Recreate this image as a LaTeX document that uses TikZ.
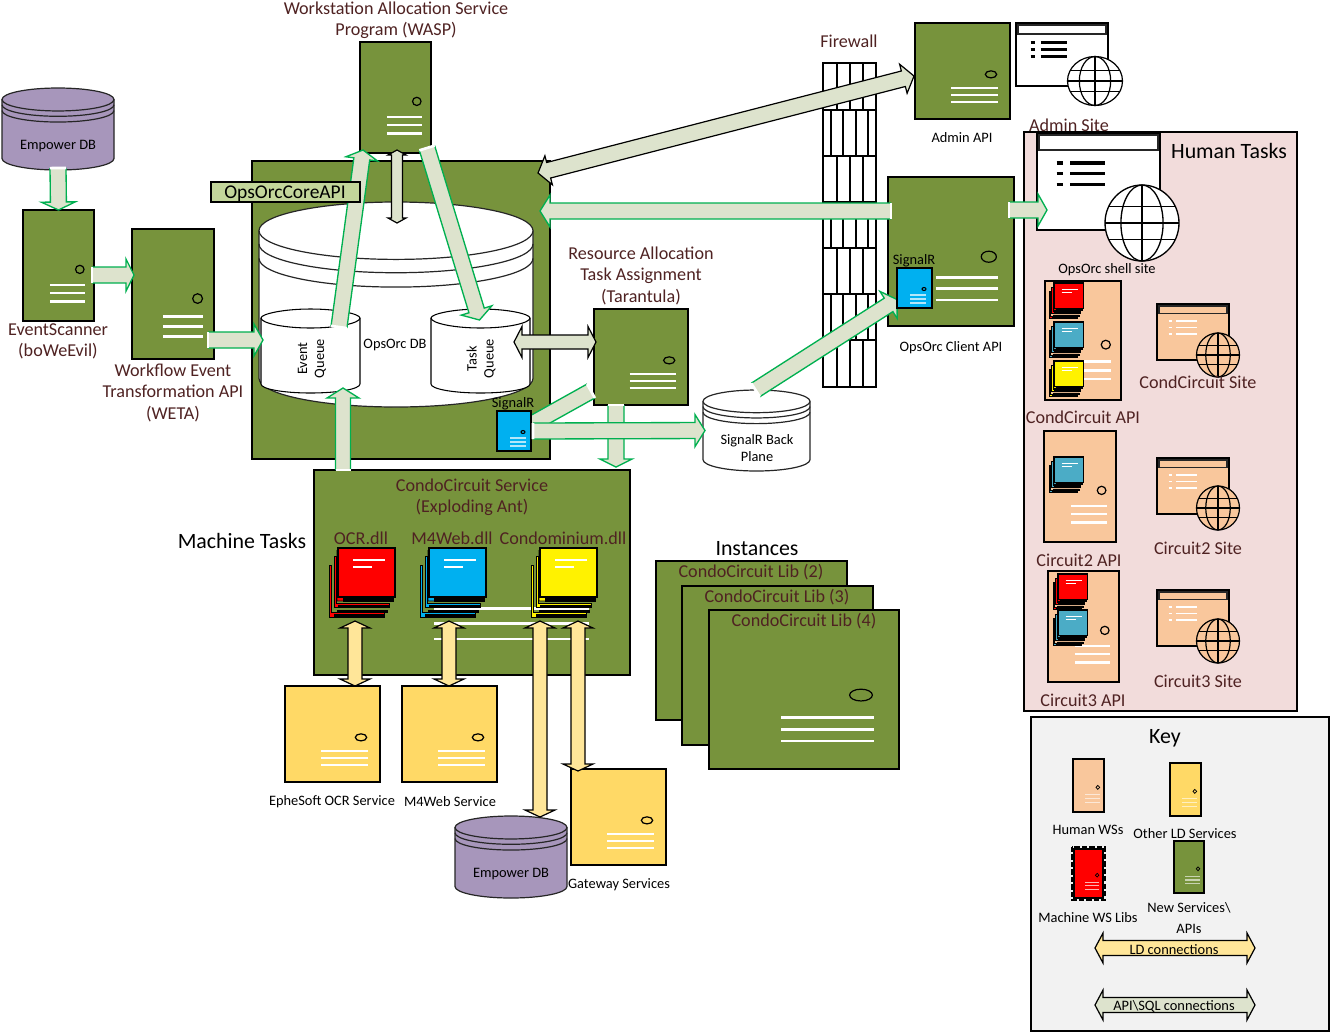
\documentclass[tikz,border=0pt]{standalone}
\usepackage{fontspec}
\setmainfont{Carlito}
\usetikzlibrary{calc}
\definecolor{brn}{HTML}{4F2222}
\definecolor{srvgreen}{HTML}{77933C}
\definecolor{srvyellow}{HTML}{FFD966}
\definecolor{srvpeach}{HTML}{F9C79C}
\definecolor{panelpink}{HTML}{F2DCDB}
\definecolor{panelgrey}{HTML}{F2F2F2}
\definecolor{dbpurple}{HTML}{A796BB}
\definecolor{tagfill}{HTML}{C3D69B}
\definecolor{conn}{HTML}{DDE3CD}
\definecolor{ldconn}{HTML}{FFE699}
\definecolor{conngreen}{HTML}{00B050}
\definecolor{sigblue}{HTML}{00B0F0}
\definecolor{paleblue}{HTML}{4BACC6}
\tikzset{
  lbl/.style={text=brn,inner sep=0pt,align=center,yshift=-0.9pt,font=\fontsize{13.6}{16}\selectfont},
  small/.style={text=black,inner sep=0pt,align=center,yshift=-0.6pt,font=\fontsize{10.8}{12.8}\selectfont},
  big/.style={text=black,inner sep=0pt,align=center,yshift=-0.6pt,font=\fontsize{16.4}{18}\selectfont},
  srvbox/.style={draw=black,line width=0.95pt,inner sep=0pt,outer sep=0pt,anchor=north west},
  bare/.style={inner sep=0pt,outer sep=0pt,anchor=north west},
}
% server: [opacity of lines] name x1 y1 x2 y2 fill
\newcommand{\srv}[7][1]{%
  \pgfmathsetmacro\sw{#5-#3}\pgfmathsetmacro\sh{#6-#4}%
  \pgfmathsetmacro\lwd{min(1.9,\sh*0.75/45)}%
  \pgfmathsetmacro\elw{min(0.9,\sh*0.75/70)}%
  \node[srvbox,fill=#7,minimum width=\sw*0.75pt,minimum height=\sh*0.75pt] (#2) at (#3,#4) {};
  \draw[black,line width=\elw pt] (#3+0.8*\sw,#4+0.535*\sh) ellipse [x radius=0.06*\sw*0.75pt,y radius=0.037*\sh*0.75pt];
  \foreach \fy in {0.675,0.75,0.825}{
    \draw[white,opacity=#1,line width=\lwd pt] (#3+0.38*\sw,#4+\fy*\sh) -- (#3+0.87*\sw,#4+\fy*\sh);}
}
% cylinder: name x1 y1 x2 y2 fill
\newcommand{\cyl}[6]{%
  \pgfmathsetmacro\sh{#5-#3}\pgfmathsetmacro\cx{(#2+#4)/2}\pgfmathsetmacro\hw{(#4-#2)/2}%
  \pgfmathsetmacro\ry{0.14*\sh}\pgfmathsetmacro\cy{#3+\ry}%
  \pgfmathsetmacro\ly{#5-\ry}\pgfmathsetmacro\kx{0.5523*\hw}\pgfmathsetmacro\ky{0.5523*\ry}%
  \node[bare,minimum width=2*\hw*0.75pt,minimum height=\sh*0.75pt] (#1) at (#2,#3) {};
  \filldraw[fill=#6,draw=black!85,line width=0.9pt] (#2,\cy) -- (#2,\ly)
    .. controls (#2,\ly+\ky) and (\cx-\kx,#5) .. (\cx,#5)
    .. controls (\cx+\kx,#5) and (#4,\ly+\ky) .. (#4,\ly) -- (#4,\cy);
  \filldraw[fill=#6,draw=black!85,line width=0.9pt] (\cx,\cy) ellipse [x radius=\hw*0.75pt,y radius=\ry*0.75pt];
  \foreach \off in {0.065,0.135}{
    \pgfmathsetmacro\yy{\cy+\off*\sh}
    \draw[black!85,line width=0.9pt] (#2,\yy)
    .. controls (#2,\yy+\ky) and (\cx-\kx,\yy+\ry) .. (\cx,\yy+\ry)
    .. controls (\cx+\kx,\yy+\ry) and (#4,\yy+\ky) .. (#4,\yy);}
}
% queue: name x1 x2
\newcommand{\queue}[3]{%
  \pgfmathsetmacro\cx{(#2+#3)/2}\pgfmathsetmacro\kx{0.5523*(#3-#2)/2}%
  \node[bare,minimum width=(#3-#2)*0.75pt,minimum height=84*0.75pt] (#1) at (#2,309) {};
  \filldraw[fill=white,draw=black,line width=0.8pt] (#2,318)
    .. controls (#2-0,314) and (\cx-\kx,309) .. (\cx,309)
    .. controls (\cx+\kx,309) and (#3,314) .. (#3,318)
    -- (#3,384) .. controls (#3,389) and (\cx+\kx,393) .. (\cx,393)
    .. controls (\cx-\kx,393) and (#2,389) .. (#2,384) -- cycle;
  \draw[black,line width=0.8pt] (#2,318) .. controls (#2,323) and (\cx-\kx,328) .. (\cx,328)
    .. controls (\cx+\kx,328) and (#3,323) .. (#3,318);
}
% globe: cx cy rx ry fill lw
\newcommand{\globe}[6]{%
  \filldraw[fill=#5,draw=black,line width=#6] (#1,#2) ellipse [x radius=#3*0.75pt,y radius=#4*0.75pt];
  \draw[black,line width=#6] (#1,#2) ellipse [x radius=0.57*#3*0.75pt,y radius=#4*0.75pt];
  \draw[black,line width=#6] (#1,#2-#4) -- (#1,#2+#4) (#1-#3,#2) -- (#1+#3,#2)
    (#1-0.9*#3,#2-0.43*#4) -- (#1+0.9*#3,#2-0.43*#4)
    (#1-0.9*#3,#2+0.43*#4) -- (#1+0.9*#3,#2+0.43*#4);
}
% site window: name x1 y1 x2 y2 fill listcolour
\newcommand{\site}[7]{%
  \pgfmathsetmacro\sw{#4-#2}\pgfmathsetmacro\sh{#5-#3}%
  \pgfmathsetmacro\lwd{\sh>80?2.6:(\sh>60?2.2:1.4)}%
  \node[srvbox,fill=#6,minimum width=\sw*0.75pt,minimum height=\sh*0.75pt] (#1) at (#2,#3) {};
  \draw[black!85,line width=1pt] (#2+2,#3+2) rectangle (#4-2,#3+0.175*\sh);
  \foreach \fy in {0.31,0.42,0.53}{
    \draw[#7,line width=\lwd pt] (#2+0.16*\sw,#3+\fy*\sh) -- (#2+0.21*\sw,#3+\fy*\sh)
      (#2+0.27*\sw,#3+\fy*\sh) -- (#2+0.55*\sw,#3+\fy*\sh);}
}
% book stack: name x y scale colour
\newcommand{\stack}[5]{%
  \begin{scope}[shift={(#2,#3)},x=#4*0.75pt,y=-#4*0.75pt]
    \filldraw[fill=#5,draw=black,line width=0.7pt] (-9,17) -- (-6.5,17) -- (-6.5,64) -- (46,64) -- (46,69) -- (-9,69) -- cycle;
    \filldraw[fill=black,draw=black,line width=0.4pt] (-4,66) rectangle (46,69);
    \filldraw[fill=#5,draw=black,line width=0.7pt] (-4,8) -- (-1.5,8) -- (-1.5,55) -- (51,55) -- (51,59.5) -- (-4,59.5) -- cycle;
    \filldraw[fill=black,draw=black,line width=0.4pt] (0,57.5) rectangle (51,59.5) (-1,62) rectangle (49,64);
    \filldraw[fill=#5,draw=black,line width=0.7pt] (-1,3) -- (-1,53) -- (55,53) -- (55,49) -- cycle;
    \filldraw[fill=black,draw=black,line width=0.4pt] (5,50) rectangle (55,53);
  \end{scope}
  \node[srvbox,fill=#5,minimum width=57*#4*0.75pt,minimum height=49*#4*0.75pt] (#1) at (#2,#3) {};
  \draw[white,line width=1.3*#4 pt] (#2+15*#4,#3+12*#4) -- (#2+47*#4,#3+12*#4) (#2+15*#4,#3+19*#4) -- (#2+34*#4,#3+19*#4);
}
% green block connector: from to shaft head headlen
\newcommand{\gcon}[5]{%
  \coordinate (ba) at #1; \coordinate (bb) at #2;
  \coordinate (bn) at ($(bb)!#5*0.75pt!(ba)$);
  \fill[conn] ($(ba)!#3*0.75pt!90:(bb)$) -- ($(bn)!#3*0.75pt!90:(bb)$) -- ($(bn)!#4*0.75pt!90:(bb)$) -- (bb)
    -- ($(bn)!#4*0.75pt!-90:(bb)$) -- ($(bn)!#3*0.75pt!-90:(bb)$) -- ($(ba)!#3*0.75pt!-90:(bb)$) -- cycle;
  \draw[conngreen,line width=1pt,line join=miter] ($(ba)!#3*0.75pt!90:(bb)$) -- ($(bn)!#3*0.75pt!90:(bb)$) -- ($(bn)!#4*0.75pt!90:(bb)$) -- (bb)
    -- ($(bn)!#4*0.75pt!-90:(bb)$) -- ($(bn)!#3*0.75pt!-90:(bb)$) -- ($(ba)!#3*0.75pt!-90:(bb)$);
  \draw[white,line width=2pt] ($(ba)!#3*0.75pt!90:(bb)$) -- ($(ba)!#3*0.75pt!-90:(bb)$);
}
% black double-headed block connector: from to shaft head headlen fill
\newcommand{\dcon}[6]{%
  \coordinate (ba) at #1; \coordinate (bb) at #2;
  \coordinate (bn) at ($(bb)!#5*0.75pt!(ba)$);
  \coordinate (bm) at ($(ba)!#5*0.75pt!(bb)$);
  \filldraw[fill=#6,draw=black,line width=0.9pt,line join=miter]
    (ba) -- ($(bm)!#4*0.75pt!90:(bb)$) -- ($(bm)!#3*0.75pt!90:(bb)$)
    -- ($(bn)!#3*0.75pt!90:(bb)$) -- ($(bn)!#4*0.75pt!90:(bb)$) -- (bb)
    -- ($(bn)!#4*0.75pt!-90:(bb)$) -- ($(bn)!#3*0.75pt!-90:(bb)$)
    -- ($(bm)!#3*0.75pt!-90:(bb)$) -- ($(bm)!#4*0.75pt!-90:(bb)$) -- cycle;
}
\begin{document}
\begin{tikzpicture}[x=0.75pt,y=-0.75pt]
\useasboundingbox (0,0) rectangle (1339,1033);
\fill[white] (0,0) rectangle (1339,1033);

% panels
\node[srvbox,fill=panelpink,minimum width=273*0.75pt,minimum height=579*0.75pt] (human) at (1024,132) {};
\node[srvbox,fill=panelgrey,minimum width=298*0.75pt,minimum height=314*0.75pt] (keypanel) at (1031,717) {};

% firewall
\draw[black,line width=0.8pt] (823,63) rectangle (876,387);
\foreach \ry in {110,156,202,248,294,340}{\draw[black,line width=0.8pt] (823,\ry) -- (876,\ry);}
\foreach \ra/\rb in {63/110,156/202,248/294,340/387}{
  \foreach \vx in {837,850,863}{\draw[black,line width=0.8pt] (\vx,\ra) -- (\vx,\rb);}}
\foreach \ra/\rb in {110/156,202/248,294/340}{
  \foreach \vx in {831,843,856,868}{\draw[black,line width=0.8pt] (\vx,\ra) -- (\vx,\rb);}}

% core
\node[srvbox,fill=srvgreen,minimum width=298*0.75pt,minimum height=298*0.75pt] (core) at (252,161) {};
\cyl{db}{259}{202}{533}{407}{white}
\queue{eventq}{261}{360}
\queue{taskq}{431}{530}
\node[small] (dbtext) at (395,344) {OpsOrc DB};
\node[small,rotate=90,xshift=-0.6pt] (evtext) at (312,357) {Event\\Queue};
\node[small,rotate=90,xshift=-0.6pt] (tqtext) at (481,357) {Task\\Queue};

% servers left
\cyl{empA}{2}{88}{114}{170}{dbpurple}
\node[small] (empAt) at (58,145) {Empower DB};
\srv{scan}{23}{210}{94}{321}{srvgreen}
\srv{weta}{132}{229}{214}{359}{srvgreen}
\srv{wasp}{360}{42}{431}{153}{srvgreen}
\srv{tarant}{594}{309}{688}{405}{srvgreen}
\srv{admin}{915}{23}{1010}{119}{srvgreen}
\srv{client}{888}{177}{1014}{326}{srvgreen}
\cyl{plane}{703}{390}{810}{471}{white}
\node[small] (planet) at (757,447) {SignalR Back\\Plane};

% sites
\site{adminsite}{1016}{23}{1108}{86}{white}{black}
\globe{1095}{81}{27.5}{24.5}{white}{0.9pt}
\site{shell}{1037}{133}{1160}{230}{white}{black}
\globe{1142}{223}{37}{38}{white}{1pt}

% condo
\srv{cond}{314}{470}{630}{675}{srvgreen}
\node[lbl] (condt) at (472,496) {CondoCircuit Service\\(Exploding Ant)};
\node[lbl] (ocrt) at (361,537) {OCR.dll};
\node[lbl] (m4t) at (452,537) {M4Web.dll};
\node[lbl] (cdt) at (563,537) {Condominium.dll};
\stack{ocr}{338}{548}{1}{red}
\stack{m4}{429}{548}{1}{sigblue}
\stack{condo}{540}{548}{1}{yellow}

% instances
\srv{libb}{656}{561}{847}{720}{srvgreen}
\node[lbl] (libbt) at (751,571) {CondoCircuit Lib (2)};
\srv{libc}{682}{586}{873}{745}{srvgreen}
\node[lbl] (libct) at (777,596) {CondoCircuit Lib (3)};
\srv{libd}{709}{610}{899}{769}{srvgreen}
\node[lbl] (libdt) at (804,620) {CondoCircuit Lib (4)};

% yellow servers
\srv{eph}{285}{686}{380}{782}{srvyellow}
\srv{mfour}{402}{686}{497}{782}{srvyellow}
\srv{gate}{571}{769}{666}{865}{srvyellow}
\cyl{empB}{455}{816}{567}{898}{dbpurple}
\node[small] (empBt) at (511,873) {Empower DB};

% human servers
\srv{ccapi}{1045}{281}{1121}{400}{srvpeach}
\stack{ccr}{1054}{283}{0.515}{red}
\stack{ccb}{1054}{322}{0.515}{paleblue}
\stack{ccy}{1054}{361}{0.515}{yellow}
\srv{ctwo}{1044}{431}{1116}{542}{srvpeach}
\stack{ctb}{1054}{457}{0.515}{paleblue}
\srv{cthree}{1048}{571}{1119}{682}{srvpeach}
\stack{c3r}{1058}{574}{0.515}{red}
\stack{c3b}{1058}{610}{0.515}{paleblue}
\site{ccsite}{1157}{304}{1229}{360}{srvpeach}{white}
\globe{1218}{355}{21.5}{22}{srvpeach}{0.9pt}
\site{c2site}{1157}{458}{1229}{514}{srvpeach}{white}
\globe{1218}{508}{21.5}{22}{srvpeach}{0.9pt}
\site{c3site}{1157}{590}{1229}{646}{srvpeach}{white}
\globe{1218}{641}{21.5}{22}{srvpeach}{0.9pt}

% green connectors
\gcon{($(empA.south)+(0,-2)$)}{(scan.north)}{8}{17}{8}
\gcon{($(scan.east)+(-2,9.5)$)}{($(weta.west)+(2,-19)$)}{8}{16}{8}
\gcon{($(weta.east)+(-6,46)$)}{($(core.west)+(11,30)$)}{8}{16}{9}
\gcon{($(eventq.north)+(28.5,18)$)}{($(wasp.south)+(-32.5,-3)$)}{8}{16}{9}
\node[srvbox,fill=tagfill,minimum width=149*0.75pt,minimum height=20*0.75pt] (tag) at (211,182) {};
\node[text=black,inner sep=0pt,font=\fontsize{14.6}{16}\selectfont] (tagt) at (285,193.5) {OpsOrcCoreAPI};
\gcon{($(wasp.south)+(31.5,-5)$)}{($(taskq.north)+(-1,11)$)}{8}{16}{10}
\dcon{($(wasp.south)+(1.5,-3)$)}{($(db.north)+(1,21)$)}{5.5}{9}{5}{conn}
\dcon{($(taskq.east)+(-16,-9)$)}{($(tarant.west)+(2,-15)$)}{7}{15.5}{8}{conn}
\gcon{($(tarant.south)+(-25,0)$)}{($(cond.north)+(144,-3)$)}{8}{16}{8}
\gcon{($(tarant.west)+(-3,34)$)}{($(tarant.west)+(-73,73)$)}{8}{8}{1}
\node[srvbox,fill=sigblue,minimum width=34*0.75pt,minimum height=40*0.75pt] (siga) at (497,411) {};
\draw[black,line width=0.8pt] (523,432) ellipse [x radius=1.5pt,y radius=1.1pt];
\foreach \ly in {438,442,446}{\draw[white,opacity=0.7,line width=0.8pt] (510,\ly) -- (526,\ly);}
\node[small,text=black] (sigat) at (513,403) {SignalR};
\gcon{($(siga.east)+(2,0)$)}{($(plane.west)+(2,0)$)}{8}{16}{10}
\gcon{($(plane.north)+(-1,0)$)}{($(client.west)+(9,48)$)}{8}{16}{10}
\dcon{($(core.east)+(-12,-137)$)}{($(admin.west)+(-1,5)$)}{8}{15}{11}{conn}
\gcon{($(client.west)+(3,-40.5)$)}{($(core.east)+(-10,-99)$)}{8}{16}{10}
\gcon{($(client.east)+(-5,-41.5)$)}{($(shell.west)+(10,28.5)$)}{8}{16}{9}
\gcon{($(cond.north)+(-129,0)$)}{($(eventq.south)+(32.5,-5)$)}{7.5}{16}{10}
\node[srvbox,fill=sigblue,minimum width=35*0.75pt,minimum height=40*0.75pt] (sigb) at (897,268) {};
\draw[black,line width=0.8pt] (924,289) ellipse [x radius=1.5pt,y radius=1.1pt];
\foreach \ly in {295,299,303}{\draw[white,opacity=0.7,line width=0.8pt] (910,\ly) -- (926,\ly);}
\node[small,text=black] (sigbt) at (914,260) {SignalR};

% yellow connectors
\dcon{($(ocr.south)+(-11.5,24)$)}{($(eph.north)+(22.5,0)$)}{7}{15}{7}{ldconn}
\dcon{($(m4.south)+(-8.5,24)$)}{($(mfour.north)+(-0.5,0)$)}{7}{15}{7}{ldconn}
\dcon{($(condo.south)+(-28.5,24)$)}{($(empB.north)+(29,1)$)}{7}{15}{7}{ldconn}
\dcon{($(condo.south)+(9.5,24)$)}{($(gate.north)+(-40.5,2)$)}{7}{15}{7}{ldconn}

% labels
\node[lbl] (waspt) at (396,19) {Workstation Allocation Service\\Program (WASP)};
\node[lbl] (scant) at (58,340) {EventScanner\\(boWeEvil)};
\node[lbl] (wetat) at (173,391.5) {Workflow Event\\Transformation API\\(WETA)};
\node[lbl] (tarantt) at (641,274.5) {Resource Allocation\\Task Assignment\\(Tarantula)};
\node[lbl] (firet) at (849,40) {Firewall};
\node[lbl] (adminsitet) at (1069,124) {Admin Site};
\node[small] (admint) at (962,137) {Admin API};
\node[small] (clientt) at (951,347) {OpsOrc Client API};
\node[small] (shellt) at (1107,269) {OpsOrc shell site};
\node[big] (humant) at (1229,150) {Human Tasks};
\node[big] (machinet) at (242,540) {Machine Tasks};
\node[big] (instt) at (757,548) {Instances};
\node[small] (epht) at (332,801) {EpheSoft OCR Service};
\node[small] (mfourt) at (450,801) {M4Web Service};
\node[small] (gatet) at (619,884) {Gateway Services};
\node[lbl] (ccsitet) at (1198,381) {CondCircuit Site};
\node[lbl] (ccapit) at (1083,416) {CondCircuit API};
\node[lbl] (c2apit) at (1079,559) {Circuit2 API};
\node[lbl] (c2sitet) at (1198,547) {Circuit2 Site};
\node[lbl] (c3apit) at (1083,699) {Circuit3 API};
\node[lbl] (c3sitet) at (1198,680) {Circuit3 Site};

% key
\node[big] (keyt) at (1165,737) {Key};
\srv[0.6]{khuman}{1073}{759}{1104}{812}{srvpeach}
\srv[0.6]{kld}{1170}{763}{1201}{816}{srvyellow}
\draw[black,line width=0.9pt,dash pattern=on 4pt off 1.6pt] (1072,847) rectangle (1105,900);
\srv[0.7]{kred}{1074}{849}{1103}{898}{red}
\srv[0.6]{kgreen}{1174}{841}{1204}{893}{srvgreen}
\node[small] (khumant) at (1088,829) {Human WSs};
\node[small] (kldt) at (1185,833) {Other LD Services};
\node[small] (kredt) at (1088,917) {Machine WS Libs};
\node[small,font=\fontsize{10.8}{15.75}\selectfont] (kgreent) at (1189,917.5) {New Services\textbackslash\\APIs};
\coordinate (kla) at (1095,948); \coordinate (klb) at (1255,948);
\coordinate (kaa) at (1095,1005); \coordinate (kab) at (1255,1005);
\dcon{(kla)}{(klb)}{7.5}{15}{8}{ldconn}
\dcon{(kaa)}{(kab)}{7.5}{15}{8}{conn}
\node[small] (kldc) at (1174,948.5) {LD connections};
\node[small] (kapc) at (1174,1005.5) {API\textbackslash SQL connections};
\end{tikzpicture}
\end{document}
